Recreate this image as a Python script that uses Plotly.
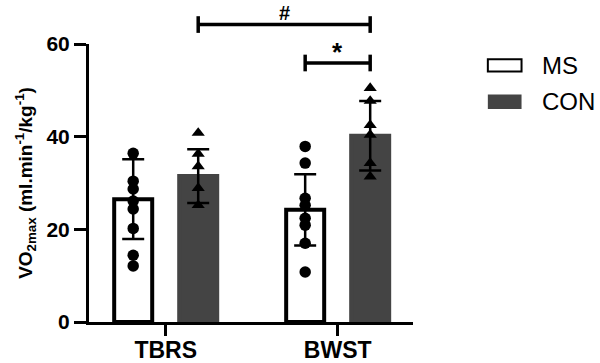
import plotly.graph_objects as go

# ---------------- data ----------------
categories = ["TBRS", "BWST"]
groups = ["MS", "CON"]
ms_mean = [26.5, 24.2]
ms_sd = [8.6, 7.7]
con_mean = [31.5, 40.2]
con_sd = [5.8, 7.5]
ms_points = [
    [36.4, 30.4, 28.7, 26.1, 24.4, 20.2, 14.4, 12.1],   # TBRS
    [37.9, 34.3, 26.7, 25.2, 22.4, 20.9, 17.0, 10.8],   # BWST
]
con_points = [
    [40.8, 36.3, 33.6, 28.9, 25.2],                     # TBRS
    [50.5, 47.7, 42.5, 40.4, 34.3, 31.4],               # BWST
]
y_ticks = [0, 20, 40, 60]
sig_hash_y = 64.2
sig_star_y = 55.9

# ---------------- styling ----------------
FONT = "Liberation Sans, Arial, sans-serif"
OFF = 0.189
BW = 0.221
DARK = "#444444"
YMAX = 60

idx = list(range(len(categories)))
x_ms = [i - OFF for i in idx]
x_con = [i + OFF for i in idx]

fig = go.Figure()
fig.add_bar(
    x=x_ms, y=ms_mean, width=BW, name=groups[0],
    marker=dict(color="white", line=dict(color="black", width=4)),
    error_y=dict(type="data", array=ms_sd, visible=True, color="black", thickness=2.5, width=11),
    showlegend=False,
)
fig.add_bar(
    x=x_con, y=con_mean, width=BW, name=groups[1],
    marker=dict(color=DARK, line=dict(color=DARK, width=4)),
    error_y=dict(type="data", array=con_sd, visible=True, color="black", thickness=2.5, width=11),
    showlegend=False,
)
for i in idx:
    fig.add_scatter(
        x=[x_ms[i]] * len(ms_points[i]), y=ms_points[i], mode="markers",
        marker=dict(symbol="circle", size=11.5, color="black"), showlegend=False,
    )
    fig.add_scatter(
        x=[x_con[i]] * len(con_points[i]), y=con_points[i], mode="markers",
        marker=dict(symbol="triangle-up", size=11.5, color="black"), showlegend=False,
    )

# significance brackets
def bracket(x0, x1, yv, h=1.8):
    line = dict(color="black", width=3.5)
    fig.add_shape(type="line", xref="x", yref="paper", x0=x0, x1=x1,
                  y0=yv / YMAX, y1=yv / YMAX, line=line)
    for xx in (x0, x1):
        fig.add_shape(type="line", xref="x", yref="paper", x0=xx, x1=xx,
                      y0=(yv - h) / YMAX, y1=(yv + h) / YMAX, line=line)

bracket(x_con[0], x_con[1], sig_hash_y)
bracket(x_ms[1], x_con[1], sig_star_y)
fig.add_annotation(x=(x_con[0] + x_con[1]) / 2, y=(sig_hash_y + 2.4) / YMAX, xref="x", yref="paper",
                   text="#", showarrow=False, yanchor="middle",
                   font=dict(family=FONT, size=20, color="black", weight="bold"))
fig.add_annotation(x=(x_ms[1] + x_con[1]) / 2, y=(sig_star_y - 1.2) / YMAX, xref="x", yref="paper",
                   text="*", showarrow=False, yanchor="bottom",
                   font=dict(family=FONT, size=26, color="black", weight="bold"))

# manual legend
leg_x0, leg_x1 = 1.231, 1.335
for k, (g, yc) in enumerate(zip(groups, [0.923, 0.792])):
    if k == 0:
        fig.add_shape(type="rect", xref="paper", yref="paper", x0=leg_x0, x1=leg_x1,
                      y0=yc - 0.022, y1=yc + 0.022, fillcolor="white",
                      line=dict(color="black", width=2))
    else:
        fig.add_shape(type="rect", xref="paper", yref="paper", x0=leg_x0, x1=leg_x1,
                      y0=yc - 0.026, y1=yc + 0.026, fillcolor=DARK,
                      line=dict(color=DARK, width=0))
    fig.add_annotation(x=1.393, y=yc, xref="paper", yref="paper", text=g,
                       showarrow=False, xanchor="left", yanchor="middle",
                       font=dict(family=FONT, size=24, color="black"))

fig.update_layout(
    width=600, height=363,
    margin=dict(l=89, r=187, t=44, b=41, pad=0),
    plot_bgcolor="white", paper_bgcolor="white",
    barmode="overlay",
    font=dict(family=FONT, color="black"),
)
fig.update_xaxes(
    range=[-0.446, 1.438], tickvals=idx, ticktext=categories,
    showline=True, linewidth=3, linecolor="black", ticks="outside", ticklen=11,
    tickwidth=3, tickcolor="black", showgrid=False, zeroline=False,
    tickfont=dict(family=FONT, size=23, color="black", weight="bold"), automargin=False,
    ticklabelstandoff=-6,
)
fig.update_yaxes(
    range=[0, YMAX], tickvals=y_ticks, ticktext=[str(v) for v in y_ticks],
    showline=True, linewidth=3, linecolor="black", ticks="outside", ticklen=12,
    tickwidth=3, tickcolor="black", showgrid=False, zeroline=False,
    tickfont=dict(family=FONT, size=21, color="black", weight="bold"), automargin=False,
    title=dict(text="VO<sub>2max</sub> (ml.min<sup>-1</sup>/kg<sup>-1</sup>)",
               font=dict(family=FONT, size=19, color="black", weight="bold"), standoff=9),
)

fig.write_html("out.html")
